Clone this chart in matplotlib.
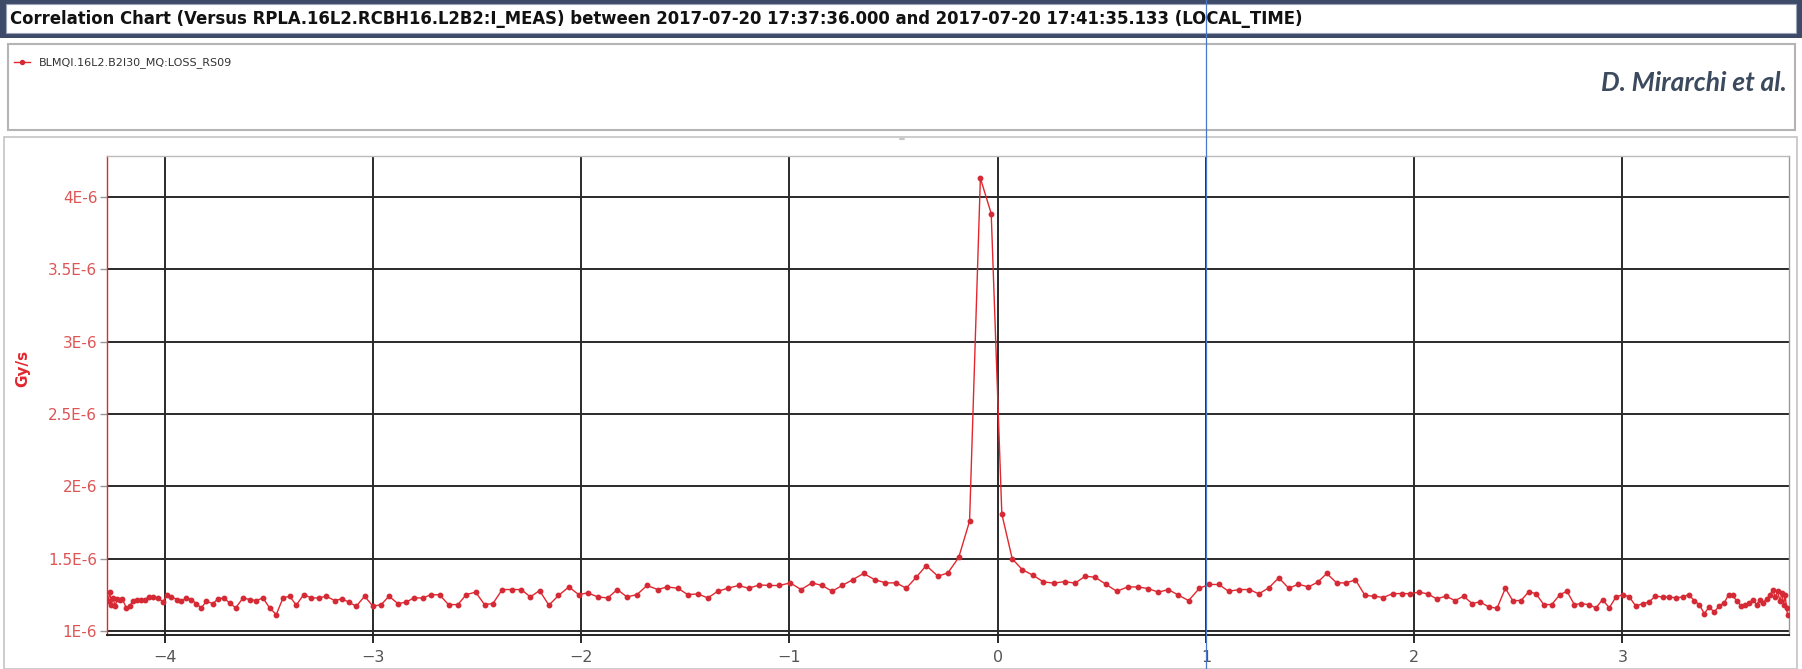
import numpy as np
import matplotlib
matplotlib.use("Agg")
import matplotlib.pyplot as plt
import matplotlib.transforms as mtransforms
from matplotlib.patches import Rectangle, Circle
from matplotlib.lines import Line2D

# Corrector current (A) vs BLM loss (1e-6 Gy/s)
current = [
    -4.272, -4.264, -4.256, -4.248, -4.238, -4.228, -4.216, -4.204, -4.184, -4.168,
    -4.152, -4.133, -4.112, -4.096, -4.075, -4.056, -4.032, -4.008, -3.989, -3.968,
    -3.941, -3.920, -3.896, -3.872, -3.848, -3.824, -3.800, -3.768, -3.744, -3.717,
    -3.688, -3.659, -3.624, -3.592, -3.560, -3.528, -3.496, -3.464, -3.432, -3.400,
    -3.368, -3.333, -3.296, -3.259, -3.224, -3.184, -3.147, -3.115, -3.080, -3.040,
    -3.000, -2.960, -2.923, -2.880, -2.843, -2.803, -2.760, -2.720, -2.680, -2.637,
    -2.592, -2.552, -2.507, -2.464, -2.424, -2.379, -2.331, -2.288, -2.244, -2.200,
    -2.155, -2.109, -2.059, -2.012, -1.968, -1.920, -1.872, -1.827, -1.780, -1.732,
    -1.684, -1.632, -1.588, -1.536, -1.488, -1.440, -1.392, -1.344, -1.296, -1.244,
    -1.196, -1.144, -1.096, -1.048, -0.996, -0.944, -0.892, -0.843, -0.795, -0.747,
    -0.695, -0.644, -0.591, -0.539, -0.487, -0.439, -0.391, -0.343, -0.287, -0.239,
    -0.187, -0.135, -0.083, -0.031, 0.020, 0.070, 0.118, 0.169, 0.220, 0.270,
    0.321, 0.372, 0.420, 0.468, 0.521, 0.572, 0.625, 0.673, 0.721, 0.772,
    0.820, 0.868, 0.917, 0.969, 1.014, 1.062, 1.109, 1.161, 1.209, 1.254,
    1.302, 1.350, 1.398, 1.444, 1.492, 1.537, 1.580, 1.628, 1.673, 1.718,
    1.764, 1.809, 1.852, 1.897, 1.940, 1.980, 2.025, 2.065, 2.108, 2.153,
    2.196, 2.238, 2.278, 2.316, 2.358, 2.398, 2.438, 2.473, 2.513, 2.550,
    2.585, 2.622, 2.660, 2.700, 2.734, 2.769, 2.801, 2.838, 2.873, 2.905,
    2.937, 2.969, 3.004, 3.033, 3.065, 3.097, 3.126, 3.158, 3.193, 3.225,
    3.257, 3.289, 3.318, 3.345, 3.369, 3.393, 3.417, 3.441, 3.465, 3.489,
    3.510, 3.529, 3.548, 3.569, 3.590, 3.609, 3.628, 3.644, 3.661, 3.676,
    3.692, 3.709, 3.721, 3.734, 3.745, 3.757, 3.766, 3.774, 3.782, 3.788,
    3.793,
]
loss = [
    1.207, 1.270, 1.184, 1.230, 1.173, 1.224, 1.219, 1.224, 1.161, 1.177,
    1.207, 1.214, 1.219, 1.219, 1.237, 1.237, 1.230, 1.203, 1.251, 1.237,
    1.219, 1.207, 1.230, 1.219, 1.191, 1.161, 1.207, 1.191, 1.224, 1.230,
    1.196, 1.161, 1.230, 1.219, 1.212, 1.230, 1.161, 1.115, 1.230, 1.242,
    1.180, 1.253, 1.230, 1.230, 1.242, 1.212, 1.224, 1.200, 1.173, 1.242,
    1.173, 1.184, 1.242, 1.191, 1.200, 1.230, 1.230, 1.253, 1.251, 1.184,
    1.184, 1.253, 1.270, 1.184, 1.191, 1.288, 1.288, 1.288, 1.237, 1.281,
    1.180, 1.247, 1.306, 1.253, 1.265, 1.237, 1.230, 1.288, 1.237, 1.253,
    1.316, 1.288, 1.306, 1.297, 1.253, 1.258, 1.230, 1.276, 1.297, 1.316,
    1.297, 1.320, 1.316, 1.316, 1.334, 1.288, 1.334, 1.316, 1.276, 1.316,
    1.357, 1.399, 1.357, 1.334, 1.334, 1.297, 1.373, 1.454, 1.380, 1.403,
    1.510, 1.760, 4.130, 3.885, 1.810, 1.500, 1.426, 1.387, 1.341, 1.332,
    1.343, 1.332, 1.380, 1.373, 1.323, 1.276, 1.306, 1.306, 1.295, 1.270,
    1.288, 1.249, 1.212, 1.297, 1.323, 1.323, 1.276, 1.288, 1.288, 1.258,
    1.300, 1.369, 1.297, 1.325, 1.306, 1.339, 1.399, 1.334, 1.334, 1.355,
    1.247, 1.242, 1.233, 1.260, 1.260, 1.260, 1.270, 1.258, 1.224, 1.242,
    1.212, 1.242, 1.191, 1.203, 1.168, 1.159, 1.297, 1.212, 1.212, 1.272,
    1.260, 1.184, 1.184, 1.253, 1.276, 1.184, 1.191, 1.184, 1.161, 1.219,
    1.161, 1.237, 1.253, 1.237, 1.173, 1.191, 1.200, 1.242, 1.237, 1.237,
    1.230, 1.237, 1.253, 1.212, 1.184, 1.122, 1.168, 1.131, 1.177, 1.196,
    1.253, 1.247, 1.212, 1.177, 1.184, 1.196, 1.219, 1.184, 1.219, 1.196,
    1.224, 1.247, 1.288, 1.237, 1.276, 1.207, 1.265, 1.184, 1.247, 1.161,
    1.115,
]
x_ticks = [-4, -3, -2, -1, 0, 1, 2, 3]
y_ticks = [1.0, 1.5, 2.0, 2.5, 3.0, 3.5, 4.0]
y_tick_labels = ["1E-6", "1.5E-6", "2E-6", "2.5E-6", "3E-6", "3.5E-6", "4E-6"]
cursor_x = 1

title = ("Correlation Chart (Versus RPLA.16L2.RCBH16.L2B2:I_MEAS) between "
         "2017-07-20 17:37:36.000 and 2017-07-20 17:41:35.133 (LOCAL_TIME)")
series_name = "BLMQI.16L2.B2I30_MQ:LOSS_RS09"

W, H = 1802, 669
RED = "#e3262d"


def fx(px):
    return px / W


def fy(py):
    return 1 - py / H


fig = plt.figure(figsize=(W / 100, H / 100), dpi=100)
fig.patch.set_facecolor("white")

# title bar
fig.add_artist(Rectangle((0, fy(38)), 1, 38 / H, transform=fig.transFigure,
                         fc="#3d4b69", ec="none", zorder=-5))
fig.add_artist(Rectangle((fx(6), fy(33)), fx(1790), 29 / H, transform=fig.transFigure,
                         fc="white", ec="#9aa3b8", lw=0.8, zorder=-4))
fig.text(fx(10), fy(18.5), title, ha="left", va="center", fontsize=11.9,
         fontweight="bold", color="#111111")

# legend panel
fig.add_artist(Rectangle((fx(8), fy(130)), fx(1787), 86 / H, transform=fig.transFigure,
                         fc="white", ec="#b4b4b4", lw=1.5, zorder=-5))
fig.text(fx(1787), fy(83), "D. Mirarchi et al.", ha="right", va="center",
         fontsize=19, fontweight="bold", style="italic", color="#3c4a5e", family="Lato")

# chart panel and splitter handle
fig.add_artist(Rectangle((fx(4), 0), fx(1793), (H - 137) / H, transform=fig.transFigure,
                         fc="white", ec="#c4c4c4", lw=1.2, zorder=-5))
fig.add_artist(Circle((fx(902), fy(139)), 3.2 / W, transform=fig.transFigure,
                      fc="#c8c8c8", ec="none", zorder=-4))

ax = fig.add_axes([fx(107), fy(635), fx(1789 - 107), (635 - 156) / H])
line, = ax.plot(current, np.array(loss) * 1e-6, color=RED, lw=1.0, marker="o",
                ms=3.2, mfc="#d42a36", mec="#d42a36", label=series_name, zorder=3)

ax.set_xlim(-4.277, 3.80)
ax.set_ylim(0.974e-6, 4.283e-6)
ax.set_xticks(x_ticks)
ax.set_yticks(np.array(y_ticks) * 1e-6)
ax.set_yticklabels(y_tick_labels)
ax.grid(True, color="#2a2a2a", lw=1.4)
ax.set_axisbelow(True)

ax.tick_params(axis="x", direction="out", length=6, width=1.4, color="#2a2a2a",
               labelsize=11.5, labelcolor="#555555", pad=5)
ax.tick_params(axis="y", direction="out", length=5, width=1.0, color="#999999",
               labelsize=11, labelcolor="#dd5555", pad=2)

for side, c, w in [("left", RED, 1.0), ("top", "#bbbbbb", 1.0),
                   ("right", "#999999", 1.0), ("bottom", "#222222", 1.4)]:
    ax.spines[side].set_color(c)
    ax.spines[side].set_linewidth(w)

ax.set_ylabel("Gy/s", color=RED, fontsize=11, fontweight="bold")
ax.yaxis.set_label_coords(-0.0455, 0.557)

fig.legend(handles=[line], loc="center left", bbox_to_anchor=(fx(4), fy(63)),
           frameon=False, fontsize=8, handlelength=1.4, handletextpad=0.8,
           labelcolor="#333333", markerscale=0.9)

# cursor line at x = 1 running over the whole window
trans = mtransforms.blended_transform_factory(ax.transData, fig.transFigure)
fig.add_artist(Line2D([cursor_x, cursor_x], [0, 1], transform=trans,
                      color="#4a78c8", lw=0.9, zorder=10))

fig.savefig("out.png", dpi=100)
